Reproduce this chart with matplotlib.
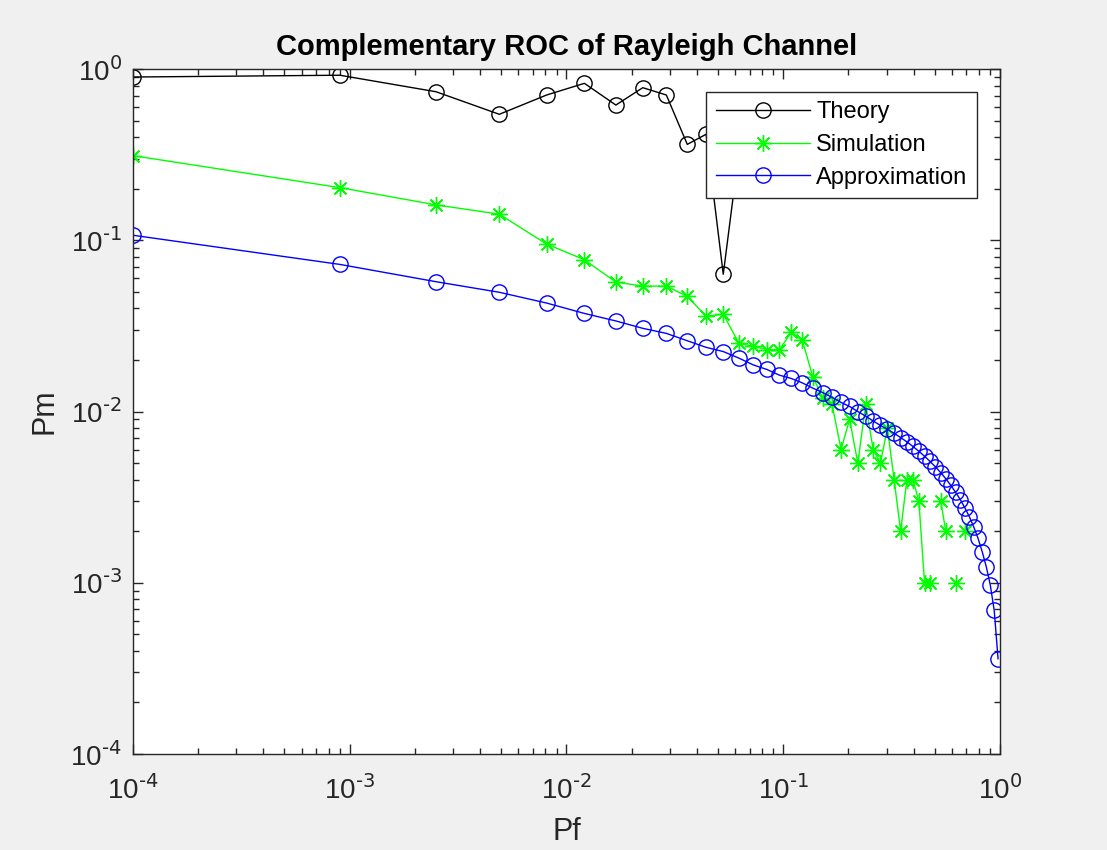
import matplotlib
matplotlib.use("Agg")
import matplotlib.pyplot as plt
from matplotlib.ticker import FuncFormatter
import numpy as np

plt.rcParams['font.family'] = ['Liberation Sans Narrow', 'Liberation Sans', 'DejaVu Sans']
plt.rcParams['mathtext.default'] = 'regular'

# false alarm probability (shared x values)
pf = [0.0001, 0.0009, 0.0025, 0.0049, 0.0081, 0.0121, 0.0169, 0.0225, 0.0289, 0.0361,
      0.0441, 0.0529, 0.0625, 0.0729, 0.0841, 0.0961, 0.1089, 0.1225, 0.1369, 0.1521,
      0.1681, 0.1849, 0.2025, 0.2209, 0.2401, 0.2601, 0.2809, 0.3025, 0.3249, 0.3481,
      0.3721, 0.3969, 0.4225, 0.4489, 0.4761, 0.5041, 0.5329, 0.5625, 0.5929, 0.6241,
      0.6561, 0.6889, 0.7225, 0.7569, 0.7921, 0.8281, 0.8649, 0.9025, 0.9409, 0.9801]

# theory (only first points are finite)
pm_theory = [0.898, 0.92, 0.737, 0.544, 0.705, 0.825, 0.616, 0.778, 0.705, 0.363,
             0.416, 0.0633, 0.33]

# simulation (nan = zero misses, not drawn on log scale)
nan = np.nan
pm_sim = [0.312, 0.203, 0.161, 0.142, 0.095, 0.077, 0.057, 0.054, 0.054, 0.047,
          0.036, 0.037, 0.025, 0.024, 0.023, 0.023, 0.029, 0.026, 0.016, 0.012,
          0.011, 0.006, 0.009, 0.005, 0.011, 0.006, 0.005, 0.008, 0.004, 0.002,
          0.004, 0.004, 0.003, 0.001, 0.001, nan, 0.003, 0.002, nan, 0.001,
          nan, 0.002, nan, nan, nan, nan, nan, nan, nan, nan]

# approximation
pm_approx = [0.107, 0.0723, 0.0573, 0.0497, 0.043, 0.0374, 0.0338, 0.0306, 0.0286, 0.0259,
             0.0237, 0.0224, 0.0205, 0.0187, 0.0176, 0.0163, 0.0156, 0.0147, 0.0137, 0.0129,
             0.0121, 0.0113, 0.0107, 0.0100, 0.0094, 0.0088, 0.0083, 0.00788, 0.00746, 0.00705,
             0.00665, 0.00625, 0.00586, 0.00548, 0.00511, 0.00475, 0.0044, 0.00405, 0.00371, 0.00338,
             0.00306, 0.00274, 0.00243, 0.00212, 0.00182, 0.00152, 0.00124, 0.00097, 0.00069, 0.00036]

decades = [1e-4, 1e-3, 1e-2, 1e-1, 1]


def pow_label(v, pos):
    e = int(round(np.log10(v)))
    return r'$10^{\text{%d}}$' % e


fig = plt.figure(figsize=(11.07, 8.5), dpi=100, facecolor='#f0f0f0')
ax = fig.add_axes([0.1201, 0.1129, 0.7832, 0.8059])

ax.loglog(pf[:len(pm_theory)], pm_theory, '-', color='k', marker='o', mfc='none',
          ms=11, lw=1.0, mew=1.0, label='Theory')
ax.loglog(pf, pm_sim, '-', color='#00ff00', marker=(8, 2, 0), ms=12, lw=1.0, mew=1.0,
          label='Simulation')
ax.loglog(pf, pm_approx, '-', color='#0000ff', marker='o', mfc='none', ms=11, lw=1.0,
          mew=1.0, label='Approximation')

ax.set_xlim(1e-4, 1)
ax.set_ylim(1e-4, 1)
ax.set_xticks(decades)
ax.set_yticks(decades)
ax.xaxis.set_major_formatter(FuncFormatter(pow_label))
ax.yaxis.set_major_formatter(FuncFormatter(pow_label))

ax.tick_params(which='both', direction='in', top=True, right=True, colors='#262626',
               labelsize=20, width=1.0)
ax.tick_params(which='major', length=7)
ax.tick_params(axis='x', which='major', pad=16)
ax.tick_params(axis='y', which='major', pad=8)
ax.tick_params(which='minor', length=4)
for s in ax.spines.values():
    s.set_color('#262626')
    s.set_linewidth(1.0)

ax.set_title('Complementary ROC of Rayleigh Channel', fontsize=21, fontweight='bold', pad=10)
ax.set_xlabel('Pf', fontsize=22, color='#262626', labelpad=8)
ax.set_ylabel('Pm', fontsize=22, color='#262626', labelpad=8)

leg = ax.legend(loc='upper right', bbox_to_anchor=(0.9735, 0.9664), borderaxespad=0,
                fontsize=17, fancybox=False, framealpha=1, edgecolor='#262626',
                handlelength=4.0, borderpad=0.4, labelspacing=0.45, handletextpad=0.25)
leg.get_frame().set_linewidth(1.0)

fig.savefig('out.png', dpi=100, facecolor=fig.get_facecolor())
